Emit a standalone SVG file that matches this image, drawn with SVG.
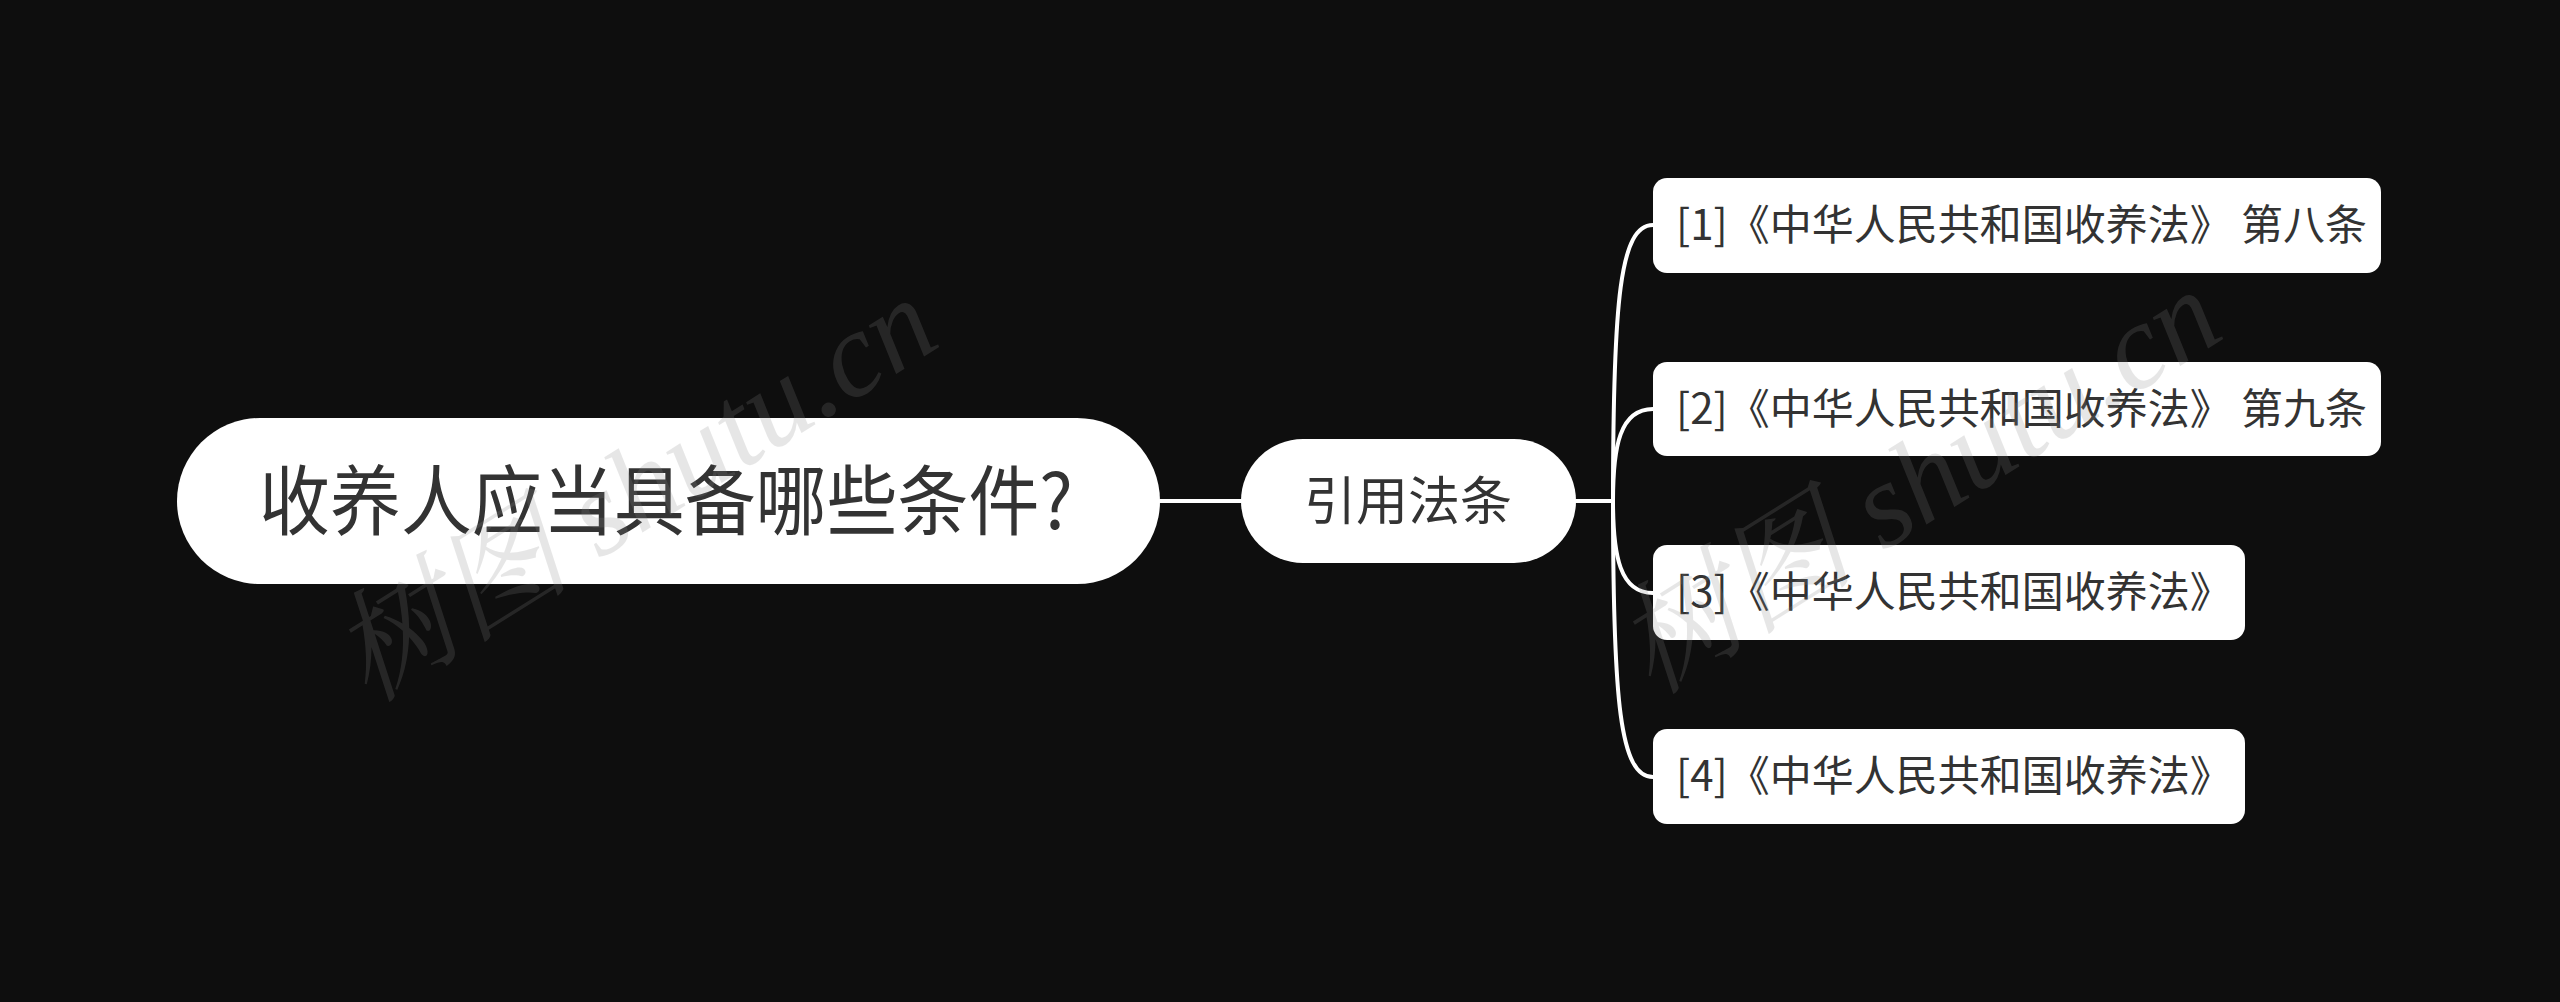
<svg xmlns="http://www.w3.org/2000/svg" width="2560" height="1002" viewBox="0 0 2560 1002">
<style>
.bg{fill:#0e0e0e}
.box{fill:#ffffff}
.t{font-family:"Noto Sans CJK SC","Noto Sans",sans-serif;fill:#333333}
.leaf{font-size:42px}
.wm{font-family:"Liberation Serif","Noto Serif CJK SC","Noto Sans CJK SC",serif;font-style:italic;font-size:121px;fill:#888888;opacity:0.2}
.c{fill:none;stroke:#ffffff;stroke-width:4;stroke-linecap:round}
</style>
<rect class="bg" x="0" y="0" width="2560" height="1002"/>
<g id="connectors">
<path class="c" d="M1160 501 L1241 501"/>
<path class="c" d="M1576 501 L1613 501"/>
<path class="c" d="M1613 501 C1613 300 1620 225 1653 225"/>
<path class="c" d="M1613 501 C1613 446 1620 409 1653 409"/>
<path class="c" d="M1613 501 C1613 556 1620 593 1653 593"/>
<path class="c" d="M1613 501 C1613 702 1620 777 1653 777"/>
</g>
<g id="root">
<rect class="box" x="177" y="418" width="983" height="166" rx="83"/>
<text class="t" x="259" y="529" font-size="76" textLength="814" lengthAdjust="spacingAndGlyphs">收养人应当具备哪些条件?</text>
</g>
<g id="mid">
<rect class="box" x="1241" y="439" width="335" height="124" rx="62"/>
<text class="t" x="1408" y="520" font-size="52" text-anchor="middle">引用法条</text>
</g>
<g id="leaf1">
<rect class="box" x="1653" y="178" width="728" height="95" rx="14"/>
<text class="t leaf" x="1676" y="240">[1]《中华人民共和国收养法》 第八条</text>
</g>
<g id="leaf2">
<rect class="box" x="1653" y="362" width="728" height="94" rx="14"/>
<text class="t leaf" x="1676" y="424">[2]《中华人民共和国收养法》 第九条</text>
</g>
<g id="leaf3">
<rect class="box" x="1653" y="545" width="592" height="95" rx="14"/>
<text class="t leaf" x="1676" y="607">[3]《中华人民共和国收养法》</text>
</g>
<g id="leaf4">
<rect class="box" x="1653" y="729" width="592" height="95" rx="14"/>
<text class="t leaf" x="1676" y="791">[4]《中华人民共和国收养法》</text>
</g>
<g id="watermarks">
<text class="wm" transform="translate(368 704) rotate(-32)">树图 shutu.cn</text>
<text class="wm" transform="translate(1652 696) rotate(-32)">树图 shutu.cn</text>
</g>
</svg>
